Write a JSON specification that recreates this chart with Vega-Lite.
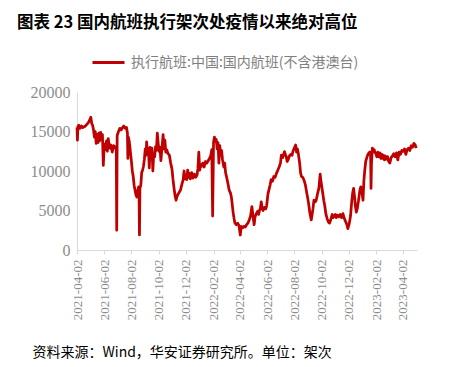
{
  "$schema": "https://vega.github.io/schema/vega-lite/v6.json",
  "width": 340,
  "height": 158,
  "autosize": {"type": "none"},
  "padding": {"top": 92, "left": 77, "right": 36, "bottom": 117},
  "background": "white",
  "title": {
    "text": "图表 23 国内航班执行架次处疫情以来绝对高位",
    "anchor": "start",
    "frame": "group",
    "dx": -60,
    "fontSize": 16.5,
    "fontWeight": "bold",
    "color": "#000000",
    "font": "Noto Sans CJK SC",
    "offset": 14
  },
  "config": {
    "view": {"stroke": null}
  },
  "data": {
    "values": [
      {"date":"2021-04-02","v":15500},{"date":"2021-04-03","v":13900},{"date":"2021-04-04","v":15600},{"date":"2021-04-06","v":15800},
      {"date":"2021-04-09","v":15400},{"date":"2021-04-12","v":15700},{"date":"2021-04-15","v":15500},{"date":"2021-04-18","v":15600},
      {"date":"2021-04-21","v":15700},{"date":"2021-04-24","v":15900},{"date":"2021-04-27","v":16100},{"date":"2021-04-30","v":16400},
      {"date":"2021-05-03","v":16800},{"date":"2021-05-05","v":16000},{"date":"2021-05-07","v":15800},{"date":"2021-05-09","v":15200},
      {"date":"2021-05-11","v":14300},{"date":"2021-05-13","v":15000},{"date":"2021-05-15","v":13500},{"date":"2021-05-17","v":14600},
      {"date":"2021-05-19","v":13600},{"date":"2021-05-21","v":14800},{"date":"2021-05-23","v":13800},{"date":"2021-05-25","v":14900},
      {"date":"2021-05-27","v":14200},{"date":"2021-05-29","v":14600},{"date":"2021-05-31","v":10700},{"date":"2021-06-02","v":13400},
      {"date":"2021-06-04","v":12700},{"date":"2021-06-07","v":13800},{"date":"2021-06-09","v":12500},{"date":"2021-06-11","v":14100},
      {"date":"2021-06-14","v":12900},{"date":"2021-06-17","v":13300},{"date":"2021-06-20","v":12400},{"date":"2021-06-23","v":13200},
      {"date":"2021-06-26","v":12900},{"date":"2021-06-29","v":13100},{"date":"2021-06-30","v":2500},{"date":"2021-07-01","v":14500},
      {"date":"2021-07-04","v":15000},{"date":"2021-07-07","v":15400},{"date":"2021-07-10","v":15200},{"date":"2021-07-13","v":15500},
      {"date":"2021-07-16","v":15700},{"date":"2021-07-19","v":15400},{"date":"2021-07-22","v":15500},{"date":"2021-07-24","v":14800},
      {"date":"2021-07-25","v":11600},{"date":"2021-07-26","v":14300},{"date":"2021-07-28","v":13800},{"date":"2021-07-30","v":12800},
      {"date":"2021-08-02","v":11200},{"date":"2021-08-04","v":10000},{"date":"2021-08-06","v":9300},{"date":"2021-08-08","v":8200},
      {"date":"2021-08-10","v":7600},{"date":"2021-08-12","v":7000},{"date":"2021-08-14","v":6700},{"date":"2021-08-16","v":7500},
      {"date":"2021-08-18","v":8000},{"date":"2021-08-19","v":7400},{"date":"2021-08-20","v":1900},{"date":"2021-08-21","v":7800},
      {"date":"2021-08-23","v":8200},{"date":"2021-08-25","v":9800},{"date":"2021-08-27","v":10100},{"date":"2021-08-29","v":10600},
      {"date":"2021-08-31","v":11500},{"date":"2021-09-02","v":12800},{"date":"2021-09-04","v":12000},{"date":"2021-09-05","v":13700},
      {"date":"2021-09-07","v":12300},{"date":"2021-09-09","v":12900},{"date":"2021-09-11","v":10400},{"date":"2021-09-13","v":13000},
      {"date":"2021-09-15","v":11800},{"date":"2021-09-17","v":12900},{"date":"2021-09-19","v":10000},{"date":"2021-09-21","v":12200},
      {"date":"2021-09-23","v":11800},{"date":"2021-09-25","v":13100},{"date":"2021-09-27","v":12600},{"date":"2021-09-29","v":14800},
      {"date":"2021-10-01","v":13500},{"date":"2021-10-03","v":12500},{"date":"2021-10-05","v":13000},{"date":"2021-10-07","v":11300},
      {"date":"2021-10-09","v":12600},{"date":"2021-10-12","v":14600},{"date":"2021-10-14","v":12800},{"date":"2021-10-16","v":13900},
      {"date":"2021-10-18","v":12400},{"date":"2021-10-20","v":12700},{"date":"2021-10-23","v":12200},{"date":"2021-10-26","v":12000},
      {"date":"2021-10-29","v":11000},{"date":"2021-11-01","v":10200},{"date":"2021-11-03","v":9000},{"date":"2021-11-06","v":7600},
      {"date":"2021-11-08","v":6800},{"date":"2021-11-10","v":6300},{"date":"2021-11-13","v":6900},{"date":"2021-11-16","v":7200},
      {"date":"2021-11-20","v":7600},{"date":"2021-11-23","v":8300},{"date":"2021-11-26","v":8900},{"date":"2021-11-28","v":10000},
      {"date":"2021-11-30","v":9000},{"date":"2021-12-02","v":9400},{"date":"2021-12-04","v":8900},{"date":"2021-12-06","v":10100},
      {"date":"2021-12-08","v":9200},{"date":"2021-12-10","v":9700},{"date":"2021-12-12","v":9000},{"date":"2021-12-15","v":9800},
      {"date":"2021-12-18","v":9100},{"date":"2021-12-21","v":9600},{"date":"2021-12-24","v":9200},{"date":"2021-12-27","v":9500},
      {"date":"2021-12-29","v":10300},{"date":"2021-12-31","v":12400},{"date":"2022-01-02","v":10100},{"date":"2022-01-04","v":10800},
      {"date":"2022-01-06","v":10600},{"date":"2022-01-09","v":11000},{"date":"2022-01-12","v":10500},{"date":"2022-01-15","v":11200},
      {"date":"2022-01-18","v":11000},{"date":"2022-01-21","v":11300},{"date":"2022-01-24","v":11600},{"date":"2022-01-27","v":12000},
      {"date":"2022-01-29","v":12700},{"date":"2022-01-31","v":4300},{"date":"2022-02-02","v":13600},{"date":"2022-02-04","v":14300},
      {"date":"2022-02-06","v":13800},{"date":"2022-02-08","v":14000},{"date":"2022-02-10","v":12800},{"date":"2022-02-12","v":13600},
      {"date":"2022-02-14","v":11000},{"date":"2022-02-16","v":13200},{"date":"2022-02-18","v":12000},{"date":"2022-02-20","v":12600},
      {"date":"2022-02-22","v":11500},{"date":"2022-02-25","v":10500},{"date":"2022-02-27","v":11000},{"date":"2022-03-01","v":9800},
      {"date":"2022-03-03","v":9300},{"date":"2022-03-06","v":8500},{"date":"2022-03-09","v":7600},{"date":"2022-03-12","v":7200},
      {"date":"2022-03-14","v":6700},{"date":"2022-03-16","v":5700},{"date":"2022-03-18","v":4700},{"date":"2022-03-20","v":4000},
      {"date":"2022-03-22","v":3400},{"date":"2022-03-25","v":3200},{"date":"2022-03-28","v":3400},{"date":"2022-03-31","v":3100},
      {"date":"2022-04-03","v":1900},{"date":"2022-04-05","v":3000},{"date":"2022-04-08","v":2800},{"date":"2022-04-11","v":3000},
      {"date":"2022-04-14","v":2900},{"date":"2022-04-17","v":3200},{"date":"2022-04-20","v":3400},{"date":"2022-04-23","v":3800},
      {"date":"2022-04-26","v":4300},{"date":"2022-04-29","v":5500},{"date":"2022-05-01","v":4500},{"date":"2022-05-04","v":3200},
      {"date":"2022-05-06","v":4200},{"date":"2022-05-09","v":4600},{"date":"2022-05-12","v":4900},{"date":"2022-05-14","v":4500},
      {"date":"2022-05-16","v":5000},{"date":"2022-05-18","v":5300},{"date":"2022-05-20","v":6100},{"date":"2022-05-22","v":5200},
      {"date":"2022-05-24","v":5000},{"date":"2022-05-27","v":5400},{"date":"2022-05-30","v":5200},{"date":"2022-06-01","v":5600},
      {"date":"2022-06-04","v":7100},{"date":"2022-06-07","v":7800},{"date":"2022-06-09","v":8300},{"date":"2022-06-11","v":8900},
      {"date":"2022-06-14","v":8700},{"date":"2022-06-17","v":9300},{"date":"2022-06-20","v":9200},{"date":"2022-06-23","v":9700},
      {"date":"2022-06-26","v":10100},{"date":"2022-06-29","v":10500},{"date":"2022-07-02","v":11000},{"date":"2022-07-04","v":12000},
      {"date":"2022-07-07","v":11700},{"date":"2022-07-09","v":12100},{"date":"2022-07-11","v":12450},{"date":"2022-07-13","v":12100},
      {"date":"2022-07-15","v":11800},{"date":"2022-07-17","v":11200},{"date":"2022-07-19","v":11400},{"date":"2022-07-22","v":11900},
      {"date":"2022-07-25","v":12100},{"date":"2022-07-28","v":12000},{"date":"2022-07-30","v":12500},{"date":"2022-08-02","v":12900},
      {"date":"2022-08-05","v":13300},{"date":"2022-08-07","v":12400},{"date":"2022-08-09","v":12800},{"date":"2022-08-11","v":12200},
      {"date":"2022-08-14","v":11000},{"date":"2022-08-16","v":9800},{"date":"2022-08-18","v":9300},{"date":"2022-08-21","v":9200},
      {"date":"2022-08-24","v":8800},{"date":"2022-08-27","v":8200},{"date":"2022-08-30","v":7200},{"date":"2022-09-01","v":6600},
      {"date":"2022-09-03","v":5900},{"date":"2022-09-06","v":4650},{"date":"2022-09-09","v":3800},{"date":"2022-09-11","v":4500},
      {"date":"2022-09-13","v":5300},{"date":"2022-09-15","v":6300},{"date":"2022-09-18","v":6100},{"date":"2022-09-20","v":6300},
      {"date":"2022-09-23","v":7100},{"date":"2022-09-26","v":7800},{"date":"2022-09-29","v":9600},{"date":"2022-10-01","v":8600},
      {"date":"2022-10-04","v":7500},{"date":"2022-10-07","v":6300},{"date":"2022-10-09","v":5700},{"date":"2022-10-12","v":4500},
      {"date":"2022-10-15","v":3900},{"date":"2022-10-18","v":3500},{"date":"2022-10-20","v":3400},{"date":"2022-10-23","v":3900},
      {"date":"2022-10-26","v":4500},{"date":"2022-10-28","v":4100},{"date":"2022-10-31","v":4300},{"date":"2022-11-02","v":4500},
      {"date":"2022-11-04","v":4100},{"date":"2022-11-07","v":4400},{"date":"2022-11-10","v":4200},{"date":"2022-11-13","v":4500},
      {"date":"2022-11-16","v":4100},{"date":"2022-11-19","v":4600},{"date":"2022-11-22","v":4000},{"date":"2022-11-25","v":3600},
      {"date":"2022-11-28","v":3200},{"date":"2022-11-30","v":2700},{"date":"2022-12-03","v":3300},{"date":"2022-12-06","v":4300},
      {"date":"2022-12-09","v":6300},{"date":"2022-12-11","v":7300},{"date":"2022-12-13","v":7800},{"date":"2022-12-15","v":6800},
      {"date":"2022-12-17","v":5500},{"date":"2022-12-19","v":4800},{"date":"2022-12-21","v":5200},{"date":"2022-12-24","v":6300},
      {"date":"2022-12-27","v":7600},{"date":"2022-12-29","v":8000},{"date":"2023-01-01","v":7200},{"date":"2023-01-03","v":6300},
      {"date":"2023-01-05","v":8800},{"date":"2023-01-07","v":10100},{"date":"2023-01-09","v":11200},{"date":"2023-01-12","v":11800},
      {"date":"2023-01-15","v":12200},{"date":"2023-01-18","v":12400},{"date":"2023-01-20","v":12100},{"date":"2023-01-21","v":7800},
      {"date":"2023-01-22","v":11000},{"date":"2023-01-24","v":12900},{"date":"2023-01-26","v":12500},{"date":"2023-01-28","v":12700},
      {"date":"2023-01-30","v":12300},{"date":"2023-02-01","v":12200},{"date":"2023-02-03","v":11800},{"date":"2023-02-05","v":12400},
      {"date":"2023-02-08","v":11800},{"date":"2023-02-10","v":12300},{"date":"2023-02-12","v":11600},{"date":"2023-02-14","v":12100},
      {"date":"2023-02-16","v":11600},{"date":"2023-02-18","v":12000},{"date":"2023-02-20","v":11400},{"date":"2023-02-22","v":11900},
      {"date":"2023-02-24","v":11500},{"date":"2023-02-27","v":11800},{"date":"2023-03-01","v":11300},{"date":"2023-03-04","v":11000},
      {"date":"2023-03-07","v":11700},{"date":"2023-03-10","v":11900},{"date":"2023-03-13","v":12200},{"date":"2023-03-16","v":11800},
      {"date":"2023-03-19","v":12300},{"date":"2023-03-22","v":11400},{"date":"2023-03-25","v":12400},{"date":"2023-03-28","v":12100},
      {"date":"2023-03-31","v":12600},{"date":"2023-04-03","v":12500},{"date":"2023-04-06","v":12800},{"date":"2023-04-09","v":12100},
      {"date":"2023-04-12","v":12700},{"date":"2023-04-15","v":12900},{"date":"2023-04-18","v":12600},{"date":"2023-04-21","v":13200},
      {"date":"2023-04-24","v":13000},{"date":"2023-04-27","v":13500},{"date":"2023-04-30","v":13300},{"date":"2023-05-02","v":12900}
    ]
  },
  "mark": {"type": "line", "strokeWidth": 2.75, "interpolate": "linear", "strokeJoin": "round"},
  "encoding": {
    "x": {
      "field": "date",
      "type": "temporal",
      "scale": {
        "type": "utc",
        "domain": [
          {"year": 2021, "month": 4, "date": 2, "utc": true},
          {"year": 2023, "month": 5, "date": 4, "utc": true}
        ]
      },
      "axis": {
        "values": [
          {"year": 2021, "month": 4, "date": 2, "utc": true},
          {"year": 2021, "month": 6, "date": 2, "utc": true},
          {"year": 2021, "month": 8, "date": 2, "utc": true},
          {"year": 2021, "month": 10, "date": 2, "utc": true},
          {"year": 2021, "month": 12, "date": 2, "utc": true},
          {"year": 2022, "month": 2, "date": 2, "utc": true},
          {"year": 2022, "month": 4, "date": 2, "utc": true},
          {"year": 2022, "month": 6, "date": 2, "utc": true},
          {"year": 2022, "month": 8, "date": 2, "utc": true},
          {"year": 2022, "month": 10, "date": 2, "utc": true},
          {"year": 2022, "month": 12, "date": 2, "utc": true},
          {"year": 2023, "month": 2, "date": 2, "utc": true},
          {"year": 2023, "month": 4, "date": 2, "utc": true}
        ],
        "format": "%Y-%m-%d",
        "labelAngle": -90,
        "labelFont": "Times New Roman",
        "labelFontSize": 13,
        "labelColor": "#8c8c8c",
        "labelPadding": 5,
        "labelOverlap": false,
        "labelFlush": false,
        "grid": false,
        "domainColor": "#d9d9d9",
        "domainWidth": 1,
        "tickColor": "#d9d9d9",
        "tickSize": 4,
        "title": "资料来源：Wind，华安证券研究所。单位：架次",
        "titleFont": "Noto Sans CJK SC",
        "titleFontSize": 14,
        "titleFontWeight": "normal",
        "titleColor": "#000000",
        "titleAnchor": "start",
        "titleAlign": "left",
        "titleBaseline": "alphabetic",
        "titleX": -45,
        "titleY": 106
      }
    },
    "y": {
      "field": "v",
      "type": "quantitative",
      "scale": {"domain": [0, 20000]},
      "axis": {
        "values": [0, 5000, 10000, 15000, 20000],
        "format": "d",
        "title": null,
        "grid": false,
        "ticks": false,
        "labelPadding": 7,
        "labelFont": "Times New Roman",
        "labelFontSize": 16,
        "labelColor": "#8c8c8c",
        "domainColor": "#d9d9d9",
        "domainWidth": 1
      }
    },
    "color": {
      "datum": "执行航班:中国:国内航班(不含港澳台)",
      "scale": {"range": ["#c00000"]},
      "legend": {
        "title": null,
        "orient": "none",
        "legendX": 14,
        "legendY": -47,
        "symbolType": "stroke",
        "symbolSize": 1024,
        "symbolStrokeWidth": 3,
        "labelFont": "Noto Sans CJK SC",
        "labelFontSize": 14,
        "labelColor": "#808080",
        "labelOffset": 5,
        "labelLimit": 400,
        "padding": 0
      }
    }
  }
}
